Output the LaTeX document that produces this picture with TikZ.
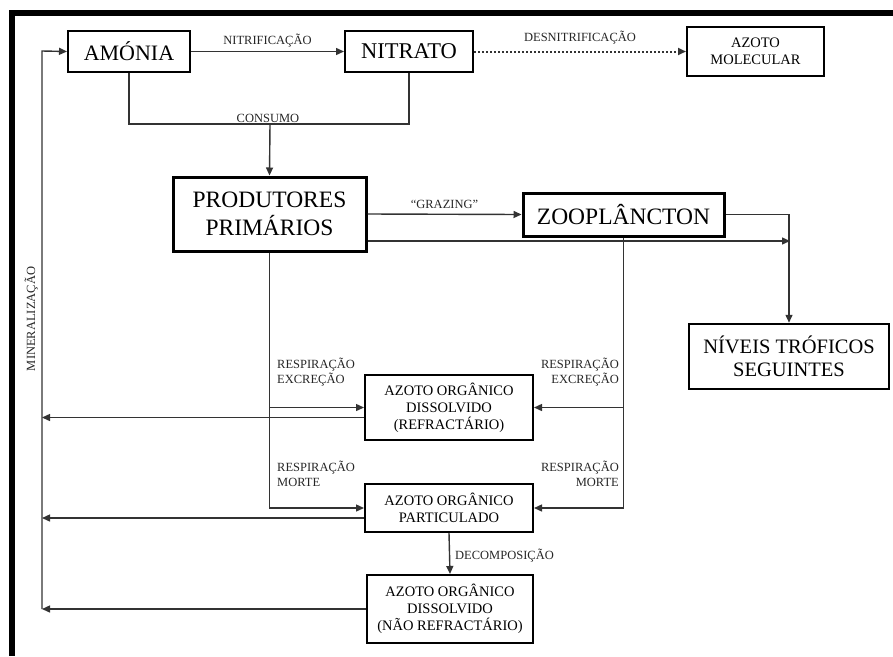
\documentclass[tikz,border=0pt]{standalone}
\usepackage{fontspec}
\setmainfont{Liberation Serif}
\usetikzlibrary{arrows.meta}
\tikzset{
  box/.style={draw, line width=2pt, inner sep=0pt, align=center,
    font=\fontsize{14.5}{17}\selectfont},
  bigbox/.style={box, line width=3pt, font=\fontsize{23.5}{28}\selectfont},
  conn/.style={line width=1.4pt, black!80},
  arr/.style={conn, -{Triangle[length=8pt,width=7pt]}},
  lbl/.style={font=\fontsize{12.5}{15}\selectfont, text=black!85, inner sep=0pt},
}
\begin{document}
\begin{tikzpicture}[x=1pt,y=-1pt]
    \useasboundingbox (0,0) rectangle (893,656);
    % moldura
    \fill (9,10) rectangle (893,16);
    \fill (9,10) rectangle (15,656);
    % caixas
    \node[box, font=\fontsize{22}{28}\selectfont, minimum width=122, minimum height=41] (amonia) at (129,51.5) {AMÓNIA};
    \node[box, font=\fontsize{22.5}{28}\selectfont, minimum width=128, minimum height=41] (nitrato) at (409,51.5) {NITRATO};
    \node[box, minimum width=137, minimum height=49] (azmol) at (755.5,51.5) {AZOTO\\MOLECULAR};
    \node[bigbox, minimum width=193, minimum height=74] (prod) at (269.5,214) {PRODUTORES\\PRIMÁRIOS};
    \node[bigbox, minimum width=201, minimum height=43] (zoo) at (623.5,214.5) {ZOOPLÂNCTON};
    \node[box, line width=2.5pt, font=\fontsize{20.5}{23}\selectfont, minimum width=200, minimum height=65] (niveis) at (789,356.5) {NÍVEIS TRÓFICOS\\SEGUINTES};
    \node[box, minimum width=168, minimum height=65] (aodr) at (449,407.5) {AZOTO ORGÂNICO\\DISSOLVIDO\\(REFRACTÁRIO)};
    \node[box, minimum width=168, minimum height=48] (aop) at (449,508) {AZOTO ORGÂNICO\\PARTICULADO};
    \node[box, minimum width=166, minimum height=68] (aodnr) at (450,609) {AZOTO ORGÂNICO\\DISSOLVIDO\\(NÃO REFRACTÁRIO)};
    \coordinate (cons) at (270,124);
    \coordinate (join) at (790,241);
    \coordinate (mincol) at (42,51);
    % ligacoes
    \draw[arr] (amonia) -- (nitrato) node[lbl, midway, above=4pt] (nitrif) {NITRIFICAÇÃO};
    \draw[arr, line width=2pt, dash pattern=on 2pt off 2pt] (nitrato) -- (azmol) node[lbl, midway, above=6pt] (desnit) {DESNITRIFICAÇÃO};
    \draw[conn] (amonia.south) |- (cons) -| (nitrato.south);
    \node[lbl, anchor=base] (consumo) at (268,122) {CONSUMO};
    \draw[arr] (cons) -- (prod.north);
    \draw[arr] (prod.east) -- (zoo.west) node[lbl, midway, above=5pt] (grazing) {“GRAZING”};
    \draw[arr] (prod.east |- join) -- (join);
    \draw[arr] (zoo.east) -| (niveis.north);
    \draw[arr] (prod.south) |- (aop.west);
    \draw[arr] (prod.south |- aodr.west) -- (aodr.west);
    \draw[arr] (zoo.south) |- (aop.east);
    \draw[arr] (zoo.south |- aodr.east) -- (aodr.east);
    \draw[arr] (aop.south) -- (aodnr.north);
    \node[lbl, anchor=base west] (decomp) at (455,559) {DECOMPOSIÇÃO};
    \node[lbl, anchor=base west, align=left] (resexl) at (277,383) {RESPIRAÇÃO\\EXCREÇÃO};
    \node[lbl, anchor=base east, align=right] (resexr) at (619,383) {RESPIRAÇÃO\\EXCREÇÃO};
    \node[lbl, anchor=base west, align=left] (resmol) at (277,486) {RESPIRAÇÃO\\MORTE};
    \node[lbl, anchor=base east, align=right] (resmor) at (619,486) {RESPIRAÇÃO\\MORTE};
    % mineralizacao
    \draw[arr] ([yshift=-10pt]aodr.west) -- ([yshift=-10pt]aodr.west -| mincol);
    \draw[arr] ([yshift=-10pt]aop.west) -- ([yshift=-10pt]aop.west -| mincol);
    \draw[arr] (aodnr.west) -- (aodnr.west -| mincol);
    \draw[arr] (aodnr.west -| mincol) -- (mincol) -- (amonia.west);
    \node[lbl, rotate=90, anchor=base] (miner) at (35,319) {MINERALIZAÇÃO};
\end{tikzpicture}
\end{document}
